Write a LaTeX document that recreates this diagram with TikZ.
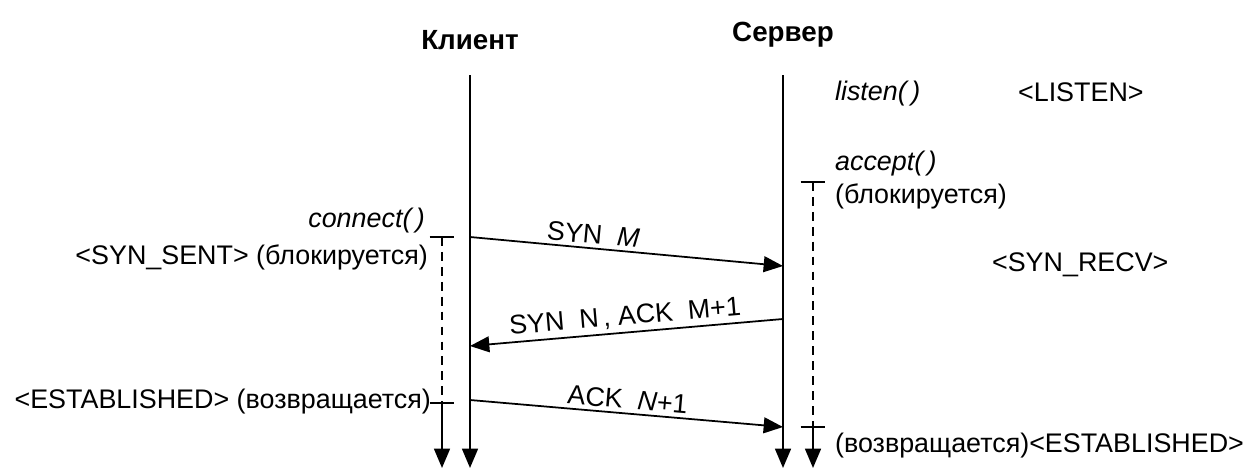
\documentclass[tikz,border=0pt]{standalone}
\usepackage{fontspec}
\setmainfont{Liberation Sans}
\usetikzlibrary{arrows.meta, positioning}

\begin{document}
\begin{tikzpicture}[x=0.02cm, y=-0.02cm,
  txt/.style={font=\fontsize{15.3}{18}\selectfont, inner sep=1pt},
  hdr/.style={font=\fontsize{15.8}{18}\selectfont\bfseries},
  life/.style={line width=1.2pt, -{Triangle[length=11pt, width=9pt]}},
  msg/.style={line width=1pt, -{Triangle[length=11pt, width=9pt]}},
  wait/.style={line width=0.8pt, dash pattern=on 5pt off 3.5pt},
  tickmark/.style={line width=0.8pt}
]
  \useasboundingbox (0,0) rectangle (1254,470);

  % headers
  \node[hdr] (client) at (470,40) {Клиент};
  \node[hdr] (server) at (783,35) {Сервер};

  % lifelines
  \coordinate (cl top) at (470,75);
  \coordinate (cl end) at (470,468);
  \coordinate (sv top) at (783,75);
  \coordinate (sv end) at (783,468);
  \draw[life] (cl top) -- (cl end);
  \draw[life] (sv top) -- (sv end);

  % message end points
  \coordinate (syn from) at (470,237);
  \coordinate (syn to) at (783,266);
  \coordinate (synack from) at (783,319);
  \coordinate (synack to) at (470,346);
  \coordinate (ack from) at (470,400);
  \coordinate (ack to) at (783,427);

  \draw[msg] (syn from) -- node[txt, above=1pt, sloped, pos=0.39] {SYN\ \ \textit{M}} (syn to);
  \draw[msg] (synack from) -- node[txt, above=1pt, sloped, pos=0.5] {SYN\ \ N\,, ACK\ \ M+1} (synack to);
  \draw[msg] (ack from) -- node[txt, above=1pt, sloped, pos=0.5] {ACK\ \ \textit{N}+1} (ack to);

  % client blocking
  \coordinate (cl block) at (442,237);
  \coordinate (cl ret) at (442,403);
  \coordinate (cl stop) at (442,468);
  \draw[tickmark] ([xshift=-7]cl block) -- ([xshift=7]cl block);
  \draw[wait] (cl block) -- (cl ret);
  \draw[tickmark] ([xshift=-7]cl ret) -- ([xshift=7]cl ret);
  \draw[life] (cl ret) -- (cl stop);

  % server blocking
  \coordinate (sv block) at (813,182);
  \coordinate (sv ret) at (813,427);
  \coordinate (sv stop) at (813,468);
  \draw[tickmark] ([xshift=-7]sv block) -- ([xshift=7]sv block);
  \draw[wait] (sv block) -- (sv ret);
  \draw[tickmark] ([xshift=-7]sv ret) -- ([xshift=7]sv ret);
  \draw[life] (sv ret) -- (sv stop);

  % client labels
  \node[txt, anchor=east] (connect) at (427,221) {\textit{connect(\,)}};
  \node[txt, anchor=east] (synsent) at (430,257) {<SYN\_SENT> (блокируется)};
  \node[txt, anchor=east] (cl estab) at (433,402) {<ESTABLISHED> (возвращается)};

  % server labels
  \node[txt, anchor=west] (listen) at (833,94) {\textit{listen(\,)}};
  \node[txt, anchor=west] (listen st) at (1016,92) {<LISTEN>};
  \node[txt, anchor=west] (accept) at (833,164) {\textit{accept(\,)}};
  \node[txt, anchor=west] (sv block lbl) at (833,196) {(блокируется)};
  \node[txt, anchor=west] (synrecv) at (990,265) {<SYN\_RECV>};
  \node[txt, anchor=west] (sv estab) at (833,446) {(возвращается)<ESTABLISHED>};
\end{tikzpicture}
\end{document}
